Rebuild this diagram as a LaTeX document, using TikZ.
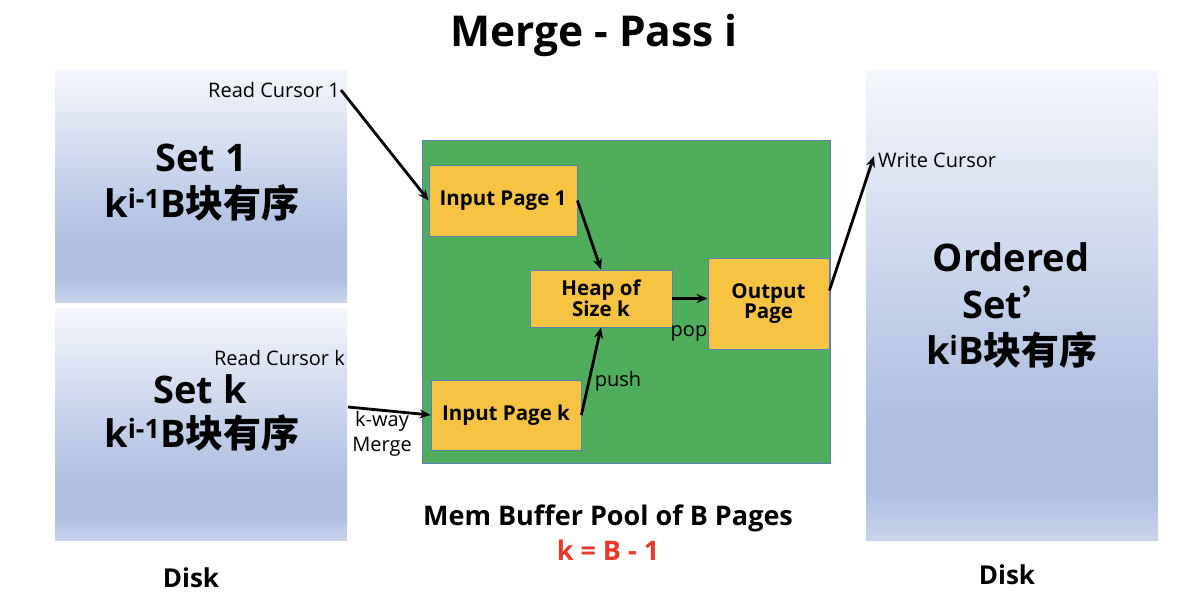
\documentclass[tikz,border=0pt]{standalone}
\usepackage{fontspec}
\setmainfont{Open Sans}
\newfontfamily\cjk{Noto Sans CJK SC}
\usetikzlibrary{arrows.meta}
\definecolor{memgreen}{HTML}{50AD5B}
\definecolor{pageyellow}{HTML}{F6C343}
\definecolor{edgeblue}{HTML}{5B7DB8}
\definecolor{redtxt}{HTML}{E8392A}
\definecolor{dtop}{HTML}{F4F6FC}
\definecolor{dupper}{HTML}{DCE3F2}
\definecolor{dmid}{HTML}{C4D0EA}
\definecolor{dlow}{HTML}{ADBEE0}
\definecolor{dbot}{HTML}{C9D4EC}
\pgfdeclareverticalshading{diskshade}{100bp}{color(0bp)=(dbot); color(25bp)=(dbot); color(30bp)=(dlow); color(37.5bp)=(dlow); color(50bp)=(dmid); color(62.5bp)=(dupper); color(75bp)=(dtop); color(100bp)=(dtop)}
\newcommand{\setfs}[1]{\fontsize{#1}{#1}\selectfont}
\newcommand{\cj}[1]{{\cjk #1}}
\tikzset{
  diskbox/.style={draw=none, shading=diskshade, inner sep=0pt},
  pagebox/.style={draw=edgeblue, line width=0.8pt, fill=pageyellow, inner sep=0pt, align=center, font=\setfs{20.5}\bfseries},
  bigtxt/.style={inner sep=0pt, align=center, font=\setfs{38}\bfseries},
  smalltxt/.style={inner sep=1pt, align=center, font=\fontsize{20}{25}\selectfont},
  arr/.style={-{Stealth[length=11pt,width=9pt]}, line width=2.8pt, black},
}
\begin{document}
\begin{tikzpicture}[x=1pt,y=-1pt]
\useasboundingbox (0,0) rectangle (1178,608);
% title
\node[inner sep=0pt, font=\setfs{42.5}\bfseries] (title) at (594,35) {Merge - Pass i};
% disk boxes
\path[diskbox] (55,70) rectangle (347,302);
\path[diskbox] (55,308) rectangle (347,540);
\path[diskbox] (866,70) rectangle (1158,540);
\node[bigtxt] (set1) at (201,158) {Set 1};
\node[bigtxt] (set1b) at (202,203) {k\textsuperscript{i-1}B\cj{块有序}};
\node[bigtxt] (setk) at (200,389) {Set k};
\node[bigtxt] (setkb) at (202,433) {k\textsuperscript{i-1}B\cj{块有序}};
\node[bigtxt] (ord1) at (1011,257) {Ordered};
\node[bigtxt, anchor=west] (ord2) at (962,302) {Set\cj{’}};
\node[bigtxt] (ord3) at (1012,350) {k\textsuperscript{i}B\cj{块有序}};
% memory pool
\path[fill=memgreen, draw=edgeblue, line width=0.8pt] (422,140) rectangle (830,463);
\node[pagebox, minimum width=148, minimum height=71] (ip1) at (503,200.5) {Input Page 1};
\node[pagebox, minimum width=142, minimum height=57] (heap) at (601,298.5) {Heap of\\Size k};
\node[pagebox, minimum width=121, minimum height=91] (out) at (768.5,303.5) {Output\\Page};
\node[pagebox, minimum width=150, minimum height=70] (ipk) at (506,415) {Input Page k};
% labels
\node[smalltxt, anchor=east] (rc1) at (341,90) {Read Cursor 1};
\node[smalltxt, anchor=east] (rck) at (346,358) {Read Cursor k};
\node[smalltxt, anchor=west] (wc) at (877,160) {Write Cursor};
\node[smalltxt] (kway) at (382,434) {k-way\\Merge};
\node[smalltxt] (pop) at (689,333) {pop};
\node[smalltxt] (push) at (618,381) {push};
\coordinate (kwstart) at (348,407);
% arrows
\draw[arr] (rc1.east) -- (ip1.west);
\draw[arr] (ip1.east) -- (heap.north);
\draw[arr] (heap.east) -- (heap.east -| out.west);
\draw[arr] (ipk.east) -- (heap.south);
\draw[arr] (kwstart) -- (ipk.west);
\draw[arr] ([yshift=13pt]out.east) -- ([xshift=-3pt,yshift=4pt]wc.west);
% captions
\node[inner sep=0pt, font=\setfs{27}\bfseries] (mem) at (608,518) {Mem Buffer Pool of B Pages};
\node[inner sep=0pt, font=\setfs{27}\bfseries, text=redtxt] (keq) at (608,550) {k = B - 1};
\node[inner sep=0pt, font=\setfs{26}\bfseries] (disk1) at (191,578) {Disk};
\node[inner sep=0pt, font=\setfs{26}\bfseries] (disk2) at (1007,575) {Disk};
\end{tikzpicture}
\end{document}
